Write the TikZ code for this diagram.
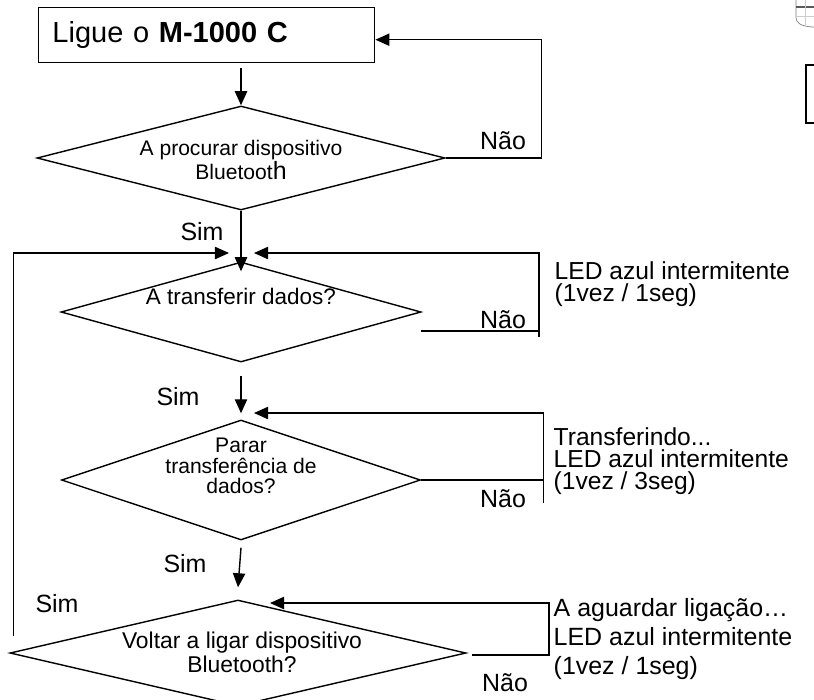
\documentclass[tikz,border=0pt]{standalone}
\usepackage{fontspec}
\setmainfont{Liberation Sans}
\usetikzlibrary{arrows.meta, shapes.geometric}

\begin{document}
\begin{tikzpicture}[x=0.2mm,y=-0.2mm,->,>={Triangle[length=8pt,width=7pt]},thick,
  start box/.style={draw,rectangle,anchor=north west,minimum width=67.3mm,minimum height=11mm,
    text width=61.6mm,inner xsep=2.85mm,align=left,font=\fontsize{16.5}{18}\selectfont},
  decision node/.style={diamond,draw,inner sep=0pt},
  small text/.style={font=\fontsize{12}{13.7}\selectfont,align=center,inner sep=0pt},
  big text/.style={font=\fontsize{14.2}{17}\selectfont,inner sep=0pt},
  note text/.style={align=left,anchor=north west,inner sep=0pt}]
  \useasboundingbox (0,0) rectangle (814,699);

  \node[start box] (box) at (37.5,7) {Ligue o \textbf{M-1000 C}};
  \node[decision node,minimum width=81.6mm,minimum height=20.8mm] (d1) at (241,158) {};
  \node[decision node,minimum width=72mm,minimum height=20mm] (d2) at (241,312) {};
  \node[decision node,minimum width=71.8mm,minimum height=24mm] (d3) at (241,480) {};
  \node[decision node,minimum width=91.2mm,minimum height=21.2mm] (d4) at (238,653) {};

  \node[small text] (t1) at (241,160) {A procurar dispositivo\\Bluetoot{\fontsize{14.2}{13.7}\selectfont h}};
  \node[small text,font=\fontsize{12.8}{14}\selectfont] (t2) at (241,296) {A transferir dados?};
  \node[small text,font=\fontsize{12}{11.7}\selectfont] (t3) at (241,466) {Parar\\transferência de\\dados?};
  \node[small text,font=\fontsize{13}{13.7}\selectfont] (t4) at (242,652) {Voltar a ligar dispositivo\\Bluetooth?};

  \node[big text] (s1) at (202,232) {Sim};
  \node[big text] (s2) at (178,397) {Sim};
  \node[big text] (s3) at (185,564) {Sim};
  \node[big text] (s4) at (57,604) {Sim};
  \node[big text] (n1) at (503,141) {Não};
  \node[big text] (n2) at (503,320) {Não};
  \node[big text] (n3) at (503,499) {Não};
  \node[big text] (n4) at (505,683) {Não};

  \node[note text,font=\fontsize{14}{12.4}\selectfont] (led1) at (554,261) {LED azul intermitente\\(1vez / 1seg)};
  \node[note text,font=\fontsize{14}{12.4}\selectfont] (led2) at (553,427) {Transferindo...\\LED azul intermitente\\(1vez / 3seg)};
  \node[note text,font=\fontsize{14.2}{16.5}\selectfont] (led3) at (553,598) {A aguardar ligação…\\LED azul intermitente\\(1vez / 1seg)};

  \coordinate (j1) at (241,253);
  \coordinate (j2) at (241,413);
  \coordinate (j4) at (241,603);
  \coordinate (r4) at (13.5,636);
  \coordinate (e2) at (421,331);
  \coordinate (e4) at (472,655);

  \draw[shorten <=1mm] (box.south -| d1.north) -- (d1.north);
  \draw (d1.east) -- ++(96,0) |- ([yshift=-0.9mm]box.east);
  \draw (d1.south) -- ([yshift=-2mm]d2.north);
  \draw (r4) |- ([xshift=-2.4mm]j1);
  \draw (e2) -- ++(118,0) |- ([xshift=2.6mm]j1);
  \draw[-] (e2) ++(118,0) -- ++(0,6);
  \draw ([yshift=-2.6mm]d2.south) -- ([yshift=1.2mm]d3.north);
  \draw (d3.east) -- ++(122,0) |- ([xshift=2.6mm]j2);
  \draw[-] (d3.east) ++(122,0) -- ++(0,23);
  \draw ([yshift=-1.4mm]d3.south) -- ([yshift=2.4mm]d4.north);
  \draw (e4) -- ++(77,0) |- ([xshift=5.8mm]j4);

  % cut-off pieces at the right edge
  \draw[-] (820,65) -- (806,65) -- (806,123) -- (820,123);
  \draw[-,gray,thin] (796,0) -- (796,17) .. controls (796,24) and (802,26) .. (812,27) -- (814,27);
  \draw[-,gray!70!black] (796,7) -- (814,7);
  \draw[-,gray!40,thin] (796,16) -- (814,16) (805,0) -- (805,26);
\end{tikzpicture}
\end{document}
